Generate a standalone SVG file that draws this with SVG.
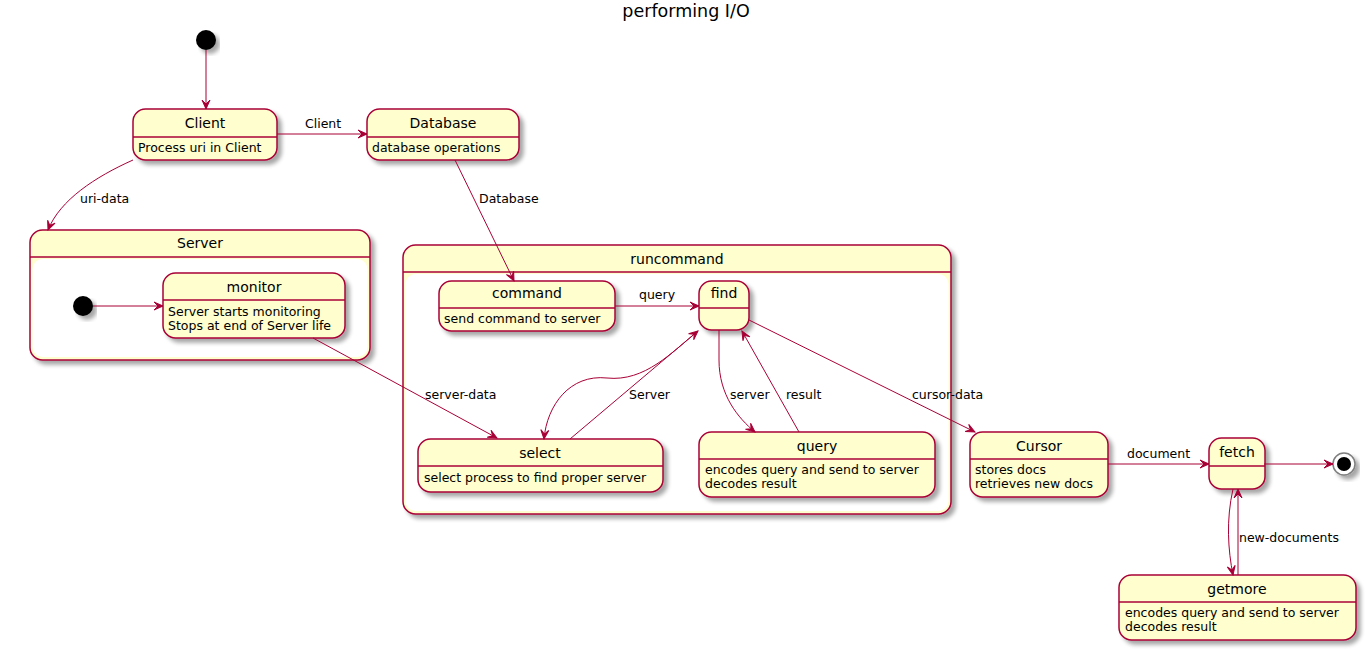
<svg xmlns="http://www.w3.org/2000/svg" width="1366" height="651" viewBox="0 0 1366 651">
<defs>
<filter id="sh" x="-10%" y="-10%" width="130%" height="140%">
<feGaussianBlur in="SourceAlpha" stdDeviation="2"/>
<feOffset dx="4" dy="4" result="b"/>
<feComponentTransfer><feFuncA type="linear" slope="0.35"/></feComponentTransfer>
<feMerge><feMergeNode/><feMergeNode in="SourceGraphic"/></feMerge>
</filter>
<marker id="ah" viewBox="-10 -5 11 10" refX="0" refY="0" markerWidth="11" markerHeight="10" markerUnits="userSpaceOnUse" orient="auto">
<path d="M0,0 L-9,-4 L-5,0 L-9,4 Z" fill="#A80036" stroke="#A80036" stroke-width="1"/>
</marker>
<style>
.st{fill:#FEFECE;stroke:#A80036;stroke-width:1.5}
.dv{stroke:#A80036;stroke-width:1.5}
.in{fill:#FFFFFF;stroke:none}
.t{font-family:"DejaVu Sans",Verdana,sans-serif;font-size:14px;fill:#000;text-anchor:middle}
.b{font-family:"DejaVu Sans",Verdana,sans-serif;font-size:12.5px;fill:#000}
.l{font-family:"DejaVu Sans",Verdana,sans-serif;font-size:12.5px;fill:#000}
.e{fill:none;stroke:#A80036;stroke-width:1;marker-end:url(#ah)}
.n{fill:none;stroke:#A80036;stroke-width:1}
</style>
</defs>
<rect width="1366" height="651" fill="#FFFFFF"/>
<text x="686" y="17" font-family="DejaVu Sans,Verdana,sans-serif" font-size="17.5" text-anchor="middle">performing I/O</text>

<g id="start"><circle cx="206" cy="40" r="10" fill="#000" filter="url(#sh)"/></g>

<g id="Client">
<rect class="st" x="133" y="109" width="144" height="51" rx="12.5" filter="url(#sh)"/>
<line class="dv" x1="133" y1="137" x2="277" y2="137"/>
<text class="t" x="205" y="128">Client</text>
<text class="b" x="138" y="152">Process uri in Client</text>
</g>

<g id="Database">
<rect class="st" x="367" y="109" width="152" height="51" rx="12.5" filter="url(#sh)"/>
<line class="dv" x1="367" y1="137" x2="519" y2="137"/>
<text class="t" x="443" y="128">Database</text>
<text class="b" x="372" y="152">database operations</text>
</g>

<g id="Server">
<rect class="st" x="30" y="230" width="340" height="130" rx="12.5" filter="url(#sh)"/>
<rect class="in" x="32.5" y="259" width="335" height="98" rx="10"/>
<line class="dv" x1="30" y1="257" x2="370" y2="257"/>
<text class="t" x="200" y="248">Server</text>
</g>

<g id="Server_start"><circle cx="83" cy="306" r="10" fill="#000" filter="url(#sh)"/></g>

<g id="monitor">
<rect class="st" x="163" y="273" width="182" height="65" rx="12.5" filter="url(#sh)"/>
<line class="dv" x1="163" y1="300" x2="345" y2="300"/>
<text class="t" x="254" y="292">monitor</text>
<text class="b" x="168" y="315.5">Server starts monitoring</text>
<text class="b" x="168" y="329.5">Stops at end of Server life</text>
</g>

<g id="runcommand">
<rect class="st" x="403" y="245" width="548" height="269" rx="12.5" filter="url(#sh)"/>
<rect class="in" x="405.5" y="274" width="543" height="237" rx="10"/>
<line class="dv" x1="403" y1="272" x2="951" y2="272"/>
<text class="t" x="677" y="264">runcommand</text>
</g>

<g id="command">
<rect class="st" x="439" y="281" width="176" height="50" rx="12.5" filter="url(#sh)"/>
<line class="dv" x1="439" y1="308" x2="615" y2="308"/>
<text class="t" x="527" y="298">command</text>
<text class="b" x="444" y="323">send command to server</text>
</g>

<g id="find">
<rect class="st" x="699" y="281" width="50" height="49" rx="12.5" filter="url(#sh)"/>
<line class="dv" x1="699" y1="308" x2="749" y2="308"/>
<text class="t" x="724" y="298">find</text>
</g>

<g id="select">
<rect class="st" x="418" y="439" width="245" height="53" rx="12.5" filter="url(#sh)"/>
<line class="dv" x1="418" y1="466" x2="663" y2="466"/>
<text class="t" x="540" y="458">select</text>
<text class="b" x="424" y="482">select process to find proper server</text>
</g>

<g id="query">
<rect class="st" x="699" y="432" width="236" height="65" rx="12.5" filter="url(#sh)"/>
<line class="dv" x1="699" y1="459" x2="935" y2="459"/>
<text class="t" x="817" y="451">query</text>
<text class="b" x="705" y="474">encodes query and send to server</text>
<text class="b" x="705" y="488">decodes result</text>
</g>

<g id="Cursor">
<rect class="st" x="970" y="432" width="138" height="65" rx="12.5" filter="url(#sh)"/>
<line class="dv" x1="970" y1="459" x2="1108" y2="459"/>
<text class="t" x="1039" y="451">Cursor</text>
<text class="b" x="975" y="474">stores docs</text>
<text class="b" x="975" y="488">retrieves new docs</text>
</g>

<g id="fetch">
<rect class="st" x="1209" y="438" width="56" height="51" rx="12.5" filter="url(#sh)"/>
<line class="dv" x1="1209" y1="466" x2="1265" y2="466"/>
<text class="t" x="1237" y="457">fetch</text>
</g>

<g id="end">
<circle cx="1344" cy="464" r="11" fill="#FFFFFF" stroke="#7F7F7F" stroke-width="1.5" filter="url(#sh)"/>
<circle cx="1344" cy="464" r="7" fill="#000"/>
</g>

<g id="getmore">
<rect class="st" x="1119" y="575" width="237" height="65" rx="12.5" filter="url(#sh)"/>
<line class="dv" x1="1119" y1="602" x2="1356" y2="602"/>
<text class="t" x="1237" y="594">getmore</text>
<text class="b" x="1125" y="617">encodes query and send to server</text>
<text class="b" x="1125" y="631">decodes result</text>
</g>

<g id="connectors">
<path class="e" d="M206,50 L206,109"/>
<path class="e" d="M277,134 L367,134"/>
<text class="l" x="305" y="128">Client</text>
<path class="e" d="M133,160 C95,177 60,200 48,230"/>
<text class="l" x="80" y="203">uri-data</text>
<path class="e" d="M455,160 L514,281"/>
<text class="l" x="479" y="203">Database</text>
<path class="e" d="M93,306 L163,306"/>
<path class="e" d="M313,338 L497,438"/>
<text class="l" x="425" y="399">server-data</text>
<path class="e" d="M615,306 L699,306"/>
<text class="l" x="639" y="299">query</text>
<path class="e" d="M698,331 C672,352 645,382 607,378 C570,374 547,405 544,439"/>
<path class="e" d="M570,439 L698,331"/>
<text class="l" x="629" y="399">Server</text>
<path class="e" d="M719,330 L719,360 C719,395 738,418 755,432"/>
<text class="l" x="730" y="399">server</text>
<path class="e" d="M799,432 L742,331"/>
<text class="l" x="786" y="399">result</text>
<path class="e" d="M749,320 L975,432"/>
<text class="l" x="912" y="399">cursor-data</text>
<path class="e" d="M1108,464 L1209,464"/>
<text class="l" x="1127" y="458">document</text>
<path class="e" d="M1264,464 L1333,464"/>
<path class="e" d="M1233,489 C1226,520 1228,550 1233,575"/>
<path class="e" d="M1238,575 L1238,489"/>
<text class="l" x="1239" y="542">new-documents</text>
</g>
</svg>
